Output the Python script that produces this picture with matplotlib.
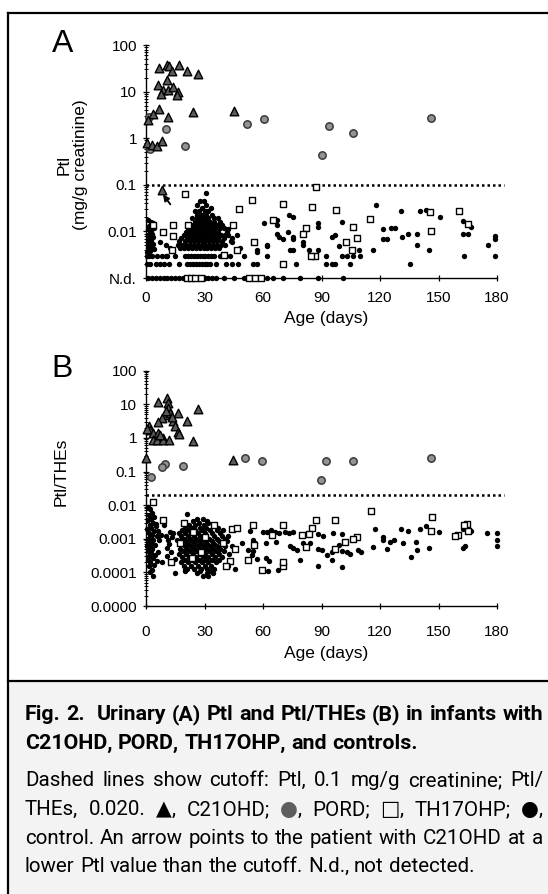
import matplotlib
matplotlib.use('Agg')
import matplotlib.pyplot as plt
from matplotlib.lines import Line2D
from matplotlib.patches import Rectangle
from matplotlib.ticker import FixedLocator, FixedFormatter, LogLocator, NullFormatter

plt.rcParams['font.family'] = ['Liberation Sans', 'DejaVu Sans']

# ---------------- data ----------------
# panel A: Ptl (mg/g creatinine); N.d. plotted at 0.001
a_c21 = [(6.7, 31.6), (10.9, 37), (12.0, 35), (13.2, 27), (17.1, 37), (21.2, 28), (26.8, 24),
         (10.6, 17.8), (6.3, 13.8), (8.9, 10.8), (11.4, 10.8), (14.0, 12.6), (16.6, 10.0),
         (7.7, 9.1), (15.7, 8.5), (6.7, 4.3), (3.7, 3.3), (11.4, 2.8), (23.9, 3.7), (45.3, 3.9),
         (0.9, 2.5), (0.4, 0.78), (3.0, 0.7), (5.6, 0.69), (8.0, 0.85), (8.0, 0.078)]
a_pord = [(1.6, 2.8), (10.0, 1.55), (20.0, 0.69), (2.1, 0.6), (52, 2.05), (60.5, 2.6),
          (90.5, 0.44), (94, 1.8), (106, 1.3), (146.3, 2.7)]
a_th17 = [(20.0, 0.063), (54.5, 0.047), (47.7, 0.030), (70.4, 0.039), (85, 0.033), (87, 0.088),
          (97.2, 0.029), (114.7, 0.0185), (106, 0.0125), (145.5, 0.026), (160.7, 0.027),
          (146.1, 0.0103), (165, 0.0145), (14.0, 0.0138), (21.7, 0.014), (8.9, 0.0099),
          (14.0, 0.0078), (44.4, 0.014), (64.9, 0.0177), (82, 0.012), (80.3, 0.0087),
          (55.4, 0.0059), (108.3, 0.0071), (102.5, 0.0059), (105.4, 0.004), (86.6, 0.003),
          (84.4, 0.003), (70.4, 0.002), (46.5, 0.004), (40, 0.0031), (3.5, 0.014), (13.5, 0.004),
          (21, 0.001), (23, 0.001), (25, 0.001), (28, 0.001), (53, 0.001), (56, 0.001), (59, 0.001)]
# control values: dense cluster + quantized rows (value: ages)
a_ctrl_rows = {
    0.066: [31], 0.044: [27.5, 29.5], 0.037: [26, 31], 0.032: [28.5, 33.5],
    0.027: [25, 27, 30, 32], 0.0226: [26, 28.5, 31, 34],
    0.019: [23.5, 26, 28, 30, 32, 35, 37], 0.016: [25, 27, 29, 31, 33, 35, 38],
    0.0137: [22, 24, 26.5, 28.5, 30.5, 32.5, 34, 36.5, 39],
    0.0117: [21.5, 23.5, 25.5, 27.5, 29.5, 31.5, 33.5, 35.5, 38, 40],
    0.0099: [20.5, 22.5, 24.5, 26.5, 28.5, 30.5, 32.5, 34.5, 37, 41.5],
    0.0084: [19.5, 22, 24, 26, 28, 30, 32, 34, 36, 38.5, 42],
    0.0071: [18, 21, 23, 25, 27, 29, 31, 33, 35, 37, 40, 44],
    0.0061: [17, 20, 22.5, 24.5, 26.5, 28.5, 30.5, 32.5, 34.5, 36.5, 39, 43.5],
    0.0051: [16.5, 18.5, 20.5, 22.5, 24.5, 26.5, 28.5, 30.5, 32.5, 34.5, 36.5, 38.5, 40.5],
    0.0044: [17.5, 19.5, 21.5, 23.5, 25.5, 27.5, 29.5, 31.5, 33.5, 35.5, 37.5],
    0.003: [0.5, 1.5, 3, 5.5, 8, 10, 11, 15, 20, 21.5, 23, 24.5, 26, 27.5, 29, 30.5, 32, 33.5,
            35, 38, 41, 43, 50.5, 61.9, 92.3, 100.3, 102.9, 106.3, 109.7, 163.2, 179],
    0.002: [0.5, 2, 5, 7, 9, 12, 17, 21, 22.5, 24, 25.5, 27, 28.5, 30, 31.5, 33, 36, 41, 44, 47,
            54.7, 57, 76.9, 92.3, 95.2, 96.9, 104.6, 135.4],
    0.001: [1, 3, 5, 7, 9, 11, 13, 15, 17, 19, 26, 30, 32, 34, 36, 40, 45, 50, 62, 65, 70, 79,
            88, 101],
}
a_ctrl = [(1.2, 0.018), (2.5, 0.016), (3.5, 0.015), (1.5, 0.013), (4, 0.012), (1, 0.011),
          (2.5, 0.0105), (1.8, 0.0095), (3.2, 0.009), (0.8, 0.0085), (2.2, 0.008), (3.8, 0.0075),
          (1.4, 0.007), (2.8, 0.0066), (1, 0.006), (2.2, 0.0056), (3.5, 0.0053), (1.6, 0.005),
          (2.8, 0.0046), (1.2, 0.0043), (4, 0.0042), (2.2, 0.0038), (0.7, 0.0036),
          (7, 0.006), (10.5, 0.005), (12.5, 0.0045), (42, 0.011), (40.5, 0.0085), (46.5, 0.0085),
          (44, 0.006), (48, 0.0045), (57.1, 0.0036), (62, 0.0052),
          (60.5, 0.015), (67, 0.018), (73.5, 0.0226), (75.5, 0.020), (67, 0.0137), (100.3, 0.016),
          (88.3, 0.015), (88.3, 0.0124), (73, 0.0099), (67, 0.0088), (68.3, 0.0077),
          (70.4, 0.0069), (75.5, 0.0077), (75.5, 0.0069), (80.7, 0.006), (80.7, 0.005),
          (95.2, 0.0077), (96.9, 0.0084), (99.1, 0.0049), (109.4, 0.004), (56.7, 0.0039),
          (61.9, 0.0049), (73.8, 0.004), (75.5, 0.004), (83.7, 0.004), (88.3, 0.004),
          (117.8, 0.036), (130.8, 0.028), (140.5, 0.027), (143.4, 0.029), (150.8, 0.0203),
          (162.7, 0.017), (166.7, 0.0124), (121.7, 0.0112), (125.6, 0.0117), (127.7, 0.0117),
          (131.4, 0.0077), (134.5, 0.0088), (138.8, 0.0088), (121.7, 0.0069), (123.4, 0.0069),
          (162.7, 0.009), (165.3, 0.009), (116.6, 0.0039), (138.8, 0.005), (145.3, 0.004),
          (175.2, 0.005), (179, 0.0081), (179, 0.0069)]

# panel B: Ptl/THEs; 0.0000 plotted at 1e-5
b_c21 = [(10.6, 15), (6.3, 11.5), (11.1, 10.7), (11.5, 7.9), (26.5, 7.1), (16.6, 5.4),
         (20.9, 3.1), (9.7, 4.8), (8.0, 3.9), (6.3, 2.9), (14.0, 3.1), (14.9, 2.2), (16.6, 1.55),
         (16.9, 1.3), (1.5, 2.3), (2.1, 1.7), (3.8, 1.4), (6.3, 1.4), (8.9, 1.0), (3.8, 0.87),
         (5.5, 0.87), (8.9, 0.87), (11.8, 0.87), (23.9, 0.83), (0.2, 0.25), (44.8, 0.22),
         (12.5, 5.5), (13.5, 4.2), (10, 6.3), (7, 1.2), (0.5, 1.9)]
b_pord = [(9.7, 0.17), (8.3, 0.14), (19.1, 0.15), (2.6, 0.068), (50.8, 0.25), (59.3, 0.21),
          (92.2, 0.21), (105.9, 0.2), (89.5, 0.055), (146.3, 0.26)]
b_th17 = [(115.2, 0.0066), (146.5, 0.0045), (164.4, 0.0028), (54.7, 0.0026), (70.4, 0.0026),
          (87, 0.0035), (96.9, 0.0037), (85, 0.0021), (79.8, 0.0013), (83.7, 0.0014),
          (108, 0.0011), (106, 0.00096), (102, 0.00081), (146.1, 0.0017), (160.1, 0.0013),
          (165.3, 0.0017), (64.4, 0.0013), (55.4, 0.00067), (82, 0.00058), (96.9, 0.0005),
          (70.4, 0.00016), (59.6, 0.000117), (70.4, 0.00021), (3.8, 0.012), (8.9, 0.0037),
          (19.7, 0.0029), (34.9, 0.0026), (43.9, 0.0019), (46.5, 0.0021), (17.4, 0.00073),
          (39.7, 0.00075), (45.6, 0.0005), (52.1, 0.00024), (158.7, 0.0012), (163.1, 0.0026),
          (24, 0.0016), (28, 0.0004), (13, 0.0002), (30, 0.0011), (23.5, 0.00027),
          (43, 0.00022), (41, 0.00015)]
b_ctrl_rows = {
    0.0055: [20.9], 0.004: [26, 29], 0.0033: [24, 31.5], 0.0029: [27, 32],
    0.0025: [22, 25, 29.5, 35], 0.0021: [20, 23.5, 27.5, 31, 37],
    0.0018: [18.5, 21.5, 25, 28.5, 33, 36.5, 39.5],
    0.0015: [17, 20, 23, 26.5, 30, 34, 38],
    0.0012: [18, 21.5, 24.5, 27.5, 31, 35, 39, 42],
    0.001: [19.5, 22.5, 25.5, 29, 32.5, 36.5, 40.5],
    0.00085: [17.5, 20.5, 23.5, 27, 30.5, 34, 37.5, 41.5],
    0.0007: [18.5, 21.5, 25, 28, 31.5, 35, 39],
    0.0006: [20, 23, 26.5, 29.5, 33, 36.5, 40.5, 44],
    0.0005: [17.5, 21, 24.5, 27.5, 31, 34.5, 38],
    0.00042: [19, 22.5, 26, 29, 32.5, 36, 40],
    0.00035: [17, 20.5, 24, 27.5, 30.5, 34, 37.5, 42.5],
    0.00029: [18.5, 22, 25.5, 29, 32, 35.5, 39],
    0.00024: [20, 23.5, 27, 30.5, 34, 37.5],
    0.0002: [18, 21.5, 25, 28.5, 32, 36],
    0.00016: [19.5, 23, 26.5, 30, 33.5, 42.2],
    0.00013: [21, 24.5, 28, 31.5, 35, 45.6],
    0.00011: [20, 27.7, 33],
    0.000095: [14.9, 26, 31.1, 34.5],
    0.00008: [29, 32],
}
b_ctrl = [(1, 0.009), (2, 0.0075), (3, 0.006), (1.5, 0.005), (4, 0.0045), (2.5, 0.004),
          (0.8, 0.0035), (3.5, 0.003), (1.8, 0.0026), (5, 0.0024), (2.8, 0.0021), (0.5, 0.0019),
          (4.2, 0.0017), (1.5, 0.0015), (3, 0.0013), (5.5, 0.0012), (2, 0.0011), (0.8, 0.001),
          (3.8, 0.0009), (1.2, 0.0008), (2.6, 0.0007), (4.8, 0.00065), (0.6, 0.0006),
          (1.9, 0.00055), (3.3, 0.0005), (1, 0.00042), (2.8, 0.00038), (4.5, 0.00033),
          (1.7, 0.0003), (3.4, 0.00026), (0.9, 0.00023), (2.3, 0.0002), (4, 0.00017),
          (1.5, 0.00015), (3, 0.00012), (2, 0.0001), (3.5, 0.00008), (5, 0.0028), (6, 0.0017),
          (6.5, 0.0009), (6, 0.0004), (5.5, 0.00022),
          (8, 0.00021), (10.6, 0.00053), (11.4, 0.00094), (12.3, 0.0016), (14, 0.0015),
          (20, 0.00012), (49, 0.00075), (52.5, 0.00047), (55, 0.00094), (7.5, 0.0013),
          (9, 0.0025), (10, 0.0012), (12, 0.0007), (13, 0.0004), (15, 0.00025), (11, 0.0003),
          (13.5, 0.0011), (16, 0.0009),
          (53.3, 0.0017), (60, 0.0016), (62.2, 0.0016), (63.9, 0.0018), (66.1, 0.0016),
          (68.3, 0.0015), (71.2, 0.0016), (73.5, 0.0015), (75.5, 0.0016), (95.7, 0.0015),
          (100.3, 0.0014), (117.4, 0.0019), (121.7, 0.0011), (121.7, 0.00095), (125.1, 0.0008),
          (127.3, 0.00092), (130.6, 0.002), (134.5, 0.0017), (140.5, 0.0019), (143.4, 0.0024),
          (150.4, 0.0016), (162.7, 0.002), (166.5, 0.0017), (175, 0.0015), (162.7, 0.00054),
          (163.6, 0.0006), (55.9, 0.00075), (61.5, 0.00075), (66.6, 0.0008), (73.8, 0.0006),
          (75.5, 0.00054), (77.2, 0.00046), (80.7, 0.00075), (84.1, 0.00075), (88.3, 0.00048),
          (90, 0.00045), (95.2, 0.0004), (99.1, 0.00067), (100.3, 0.00042), (102.9, 0.0004),
          (104.6, 0.00035), (108.9, 0.00045), (110, 0.0004), (116.5, 0.00055), (123.4, 0.00048),
          (131.6, 0.00075), (138.3, 0.00078), (138.8, 0.00046), (145.3, 0.00053),
          (135.9, 0.00028), (54.7, 0.00042), (54.2, 0.00033), (56.7, 0.00025), (61.5, 0.00026),
          (63.2, 0.00022), (67.8, 0.000117), (62.7, 0.00011), (79, 0.00024), (88.3, 0.00016),
          (92.6, 0.00033), (95.2, 0.00024), (100.3, 0.00014), (180, 0.0015), (180, 0.00094),
          (180, 0.00059), (88, 0.0014), (91, 0.0012)]

a_ticks = [0.001, 0.01, 0.1, 1, 10, 100]
a_ticklabels = ['N.d.', '0.01', '0.1', '1', '10', '100']
b_ticks = [1e-5, 1e-4, 1e-3, 0.01, 0.1, 1, 10, 100]
b_ticklabels = ['0.0000', '0.0001', '0.001', '0.01', '0.1', '1', '10', '100']
age_ticks = [0, 30, 60, 90, 120, 150, 180]
cutoff_a = 0.1
cutoff_b = 0.020

# ---------------- figure ----------------
W, H = 548, 894
fig = plt.figure(figsize=(W / 100, H / 100), dpi=100)

# caption background and frame lines
fig.add_artist(Rectangle((8 / W, 0), 1, (H - 681) / H, transform=fig.transFigure,
                         facecolor='#f3f3f3', edgecolor='none', zorder=0))
for xs, ys in [([8, W], [13, 13]), ([8, 8], [13, H]), ([8, W], [681, 681])]:
    fig.add_artist(Line2D([x / W for x in xs], [1 - y / H for y in ys], color='black', lw=1.6))


def unzip(pairs):
    return [p[0] for p in pairs], [p[1] for p in pairs]


def rows_to_pairs(rows):
    return [(a, v) for v, ages in rows.items() for a in ages]


def draw_panel(ax, ctrl, th17, pord, c21, ymin, ticks, labels, cutoff):
    x, y = unzip(ctrl)
    ax.scatter(x, y, s=15, marker='o', color='black', linewidths=0, zorder=3, clip_on=False)
    x, y = unzip(th17)
    ax.scatter(x, y, s=19, marker='s', facecolor='white', edgecolor='black', linewidths=1.0,
               zorder=4, clip_on=False)
    x, y = unzip(pord)
    ax.scatter(x, y, s=28, marker='o', facecolor='#939393', edgecolor='#3a3a3a', linewidths=1.1,
               zorder=5, clip_on=False)
    x, y = unzip(c21)
    ax.scatter(x, y, s=38, marker='^', facecolor='#5a5a5a', edgecolor='black', linewidths=1.0,
               zorder=6, clip_on=False)
    ax.plot([0, 183.5], [cutoff, cutoff], color='black', lw=1.8, ls=(0, (1, 1.2)),
            dash_capstyle='butt', zorder=2, clip_on=False)

    ax.set_yscale('log')
    ax.set_ylim(ymin, 100)
    ax.set_xlim(0, 185)
    ax.spines['top'].set_visible(False)
    ax.spines['right'].set_visible(False)
    ax.spines['bottom'].set_bounds(0, 180)
    for s in ('left', 'bottom'):
        ax.spines[s].set_linewidth(1.0)
    ax.yaxis.set_major_locator(FixedLocator(ticks))
    ax.yaxis.set_major_formatter(FixedFormatter(labels))
    ax.yaxis.set_minor_locator(LogLocator(base=10, subs=range(2, 10), numticks=20))
    ax.yaxis.set_minor_formatter(NullFormatter())
    ax.set_xticks(age_ticks)
    ax.tick_params(axis='y', which='major', direction='inout', length=5, width=0.9,
                   labelsize=11, pad=4)
    ax.tick_params(axis='y', which='minor', direction='inout', length=3, width=0.7)
    ax.tick_params(axis='x', direction='inout', length=4, width=0.9, labelsize=11)
    ax.set_facecolor('none')


axA = fig.add_axes([146 / W, (H - 278) / H, 360.75 / W, 233 / H])
draw_panel(axA, a_ctrl + rows_to_pairs(a_ctrl_rows), a_th17, a_pord, a_c21, 0.001,
           a_ticks, a_ticklabels, cutoff_a)
axA.tick_params(axis='x', pad=7)
axA.set_xlabel('Age (days)', fontsize=12.5, labelpad=5)
axA.set_ylabel('Ptl\n(mg/g creatinine)', fontsize=12.5, va='center', linespacing=1.15)
axA.yaxis.set_label_coords(-0.205, 0.485)
axA.annotate('', xy=(8.7, 0.062), xytext=(12.5, 0.038),
             arrowprops=dict(arrowstyle='-|>', lw=1.3, color='black', mutation_scale=9,
                             shrinkA=0, shrinkB=0))

axB = fig.add_axes([146 / W, (H - 606) / H, 360.75 / W, 235.3 / H])
draw_panel(axB, b_ctrl + rows_to_pairs(b_ctrl_rows), b_th17, b_pord, b_c21, 1e-5,
           b_ticks, b_ticklabels, cutoff_b)
axB.tick_params(axis='x', pad=12)
axB.set_xlabel('Age (days)', fontsize=12.5, labelpad=5)
axB.set_ylabel('Ptl/THEs', fontsize=12.5, va='center')
axB.yaxis.set_label_coords(-0.236, 0.569)

fig.text(63 / W, 1 - 44 / H, 'A', fontsize=23, ha='center', va='center')
fig.text(62 / W, 1 - 369 / H, 'B', fontsize=23, ha='center', va='center')

# ---------------- caption (justified, word by word) ----------------
cap_fam = ['Roboto', 'DejaVu Sans']
cap_lines = [
    ('Fig. 2.  Urinary (A) Ptl and Ptl/THEs (B) in infants with', 'bold', True, 720),
    ('C21OHD, PORD, TH17OHP, and controls.', 'bold', False, 749),
    ('Dashed lines show cutoff: Ptl, 0.1 mg/g creatinine; Ptl/', 'normal', True, 786),
    ('THEs, 0.020. {tri}, C21OHD; {pord}, PORD; {sq}, TH17OHP; {ctl},', 'normal', True, 815),
    ('control. An arrow points to the patient with C21OHD at a', 'normal', True, 844),
    ('lower Ptl value than the cutoff. N.d., not detected.', 'normal', False, 872),
]
symbols = {'{tri}': ('\u25B2', 'black'), '{pord}': ('\u25CF', '#5e5e5e'),
           '{sq}': ('\u25A1', 'black'), '{ctl}': ('\u25CF', 'black')}
x_left, x_right = 25, 543
renderer = fig.canvas.get_renderer()


def text_w(s, size, weight):
    if not s:
        return 0.0
    t = fig.text(0, 0, s, fontsize=size, fontweight=weight, family=cap_fam)
    w = t.get_window_extent(renderer).width
    t.remove()
    return w


def split_words(line):
    words = []
    for w in line.split(' '):
        segs = [(w, 'black')]
        for k, (ch, col) in symbols.items():
            if w.startswith(k):
                segs = [(ch, col), (w[len(k):], 'black')]
        words.append(segs)
    return words


def natural_width(line, size, weight):
    words = split_words(line)
    sp = text_w('a a', size, weight) - text_w('aa', size, weight)
    return sum(text_w(s, size, weight) for w in words for s, _ in w) + sp * (len(words) - 1)


target = x_right - x_left
size_b = 10 * target * 0.995 / natural_width(cap_lines[0][0], 10, 'bold')
size_n = 10 * target * 0.985 / max(natural_width(l[0], 10, 'normal')
                                    for l in cap_lines[2:] if l[2])

for line, weight, justify, base in cap_lines:
    size = size_b if weight == 'bold' else size_n
    words = split_words(line)
    widths = [[text_w(s, size, weight) for s, _ in w] for w in words]
    total = sum(sum(ws) for ws in widths)
    sp = text_w('a a', size, weight) - text_w('aa', size, weight)
    gap = (target - total) / (len(words) - 1) if justify else sp
    x = x_left
    for segs, ws in zip(words, widths):
        for (s, col), wpx in zip(segs, ws):
            if s:
                fig.text(x / W, 1 - base / H, s, fontsize=size, fontweight=weight,
                         family=cap_fam, color=col, ha='left', va='baseline')
            x += wpx
        x += gap

fig.savefig('out.png', dpi=100)
